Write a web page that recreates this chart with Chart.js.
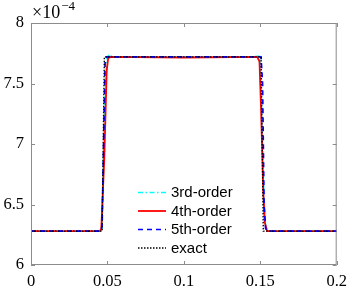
<!DOCTYPE html>
<html><head><meta charset="utf-8">
<script src="https://cdn.jsdelivr.net/npm/chart.js@4"></script>
<style>html,body{margin:0;padding:0;background:#fff}#wrap{width:354px;height:293px}</style>
</head><body><div id="wrap"><canvas id="c" width="354" height="293"></canvas></div>
<script>
// Values in units of 1e-4
const seriesNames = ['3rd-order','4th-order','5th-order','exact'];
const x3 = [0,0.045,0.0465,0.0475,0.0485,0.0495,0.051,0.053,0.1,0.147,0.148,0.1495,0.1505,0.1515,0.1525,0.1535,0.155,0.2];
const y3 = [6.28,6.28,6.30,6.85,7.45,7.70,7.74,7.72,7.72,7.72,7.74,7.70,7.45,6.95,6.50,6.32,6.28,6.28];
const x4 = [0,0.045,0.046,0.048,0.0495,0.0505,0.052,0.1,0.148,0.1495,0.1505,0.152,0.153,0.1545,0.2];
const y4 = [6.28,6.28,6.30,6.90,7.60,7.71,7.72,7.715,7.72,7.68,7.30,6.60,6.35,6.28,6.28];
const x5 = [0,0.0455,0.0465,0.0475,0.0485,0.0495,0.1505,0.1515,0.1525,0.1535,0.155,0.2];
const y5 = [6.28,6.28,6.32,7.00,7.68,7.72,7.72,7.50,6.50,6.30,6.28,6.28];
const xe = [0,0.0465,0.048,0.1505,0.152,0.2];
const ye = [6.28,6.28,7.72,7.72,6.28,6.28];
const xTickVals = [0,0.05,0.1,0.15,0.2];
const xTickLabels = ['0','0.05','0.1','0.15','0.2'];
const yTickVals = [6,6.5,7,7.5,8];
const yTickLabels = ['6','6.5','7','7.5','8'];
const exponentBase = '\u00d710';
const exponentSup = '\u22124';

const pts = (xs, ys) => xs.map((x, i) => ({x, y: ys[i]}));
const styles = [
  {color:'#00ffff', dash:[5,2.5,1.5,2.5], width:1.7, order:3},
  {color:'#ff0000', dash:[], width:1.8, order:2},
  {color:'#0000ff', dash:[5,4], width:1.7, order:1},
  {color:'#000000', dash:[1.5,1.5], width:1.4, order:0}
];
const allData = [pts(x3,y3), pts(x4,y4), pts(x5,y5), pts(xe,ye)];
const datasets = allData.map((d, i) => ({
  label: seriesNames[i], data: d, showLine: true, pointRadius: 0,
  borderColor: styles[i].color, borderDash: styles[i].dash,
  borderWidth: styles[i].width, order: styles[i].order, tension: 0, fill: false
}));

const AX = '#8c8c8c';
const boxPlugin = {
  id: 'box',
  afterDraw(chart) {
    const {ctx, chartArea: a, scales} = chart;
    ctx.save();
    ctx.strokeStyle = AX; ctx.lineWidth = 1; ctx.setLineDash([]);
    ctx.strokeRect(a.left + 0.5, a.top + 0.5, a.right - a.left - 1, a.bottom - a.top - 1);
    const L = 4;
    ctx.beginPath();
    xTickVals.forEach(v => {
      const px = Math.round(scales.x.getPixelForValue(v)) + 0.5;
      ctx.moveTo(px, a.bottom); ctx.lineTo(px, a.bottom - L);
      ctx.moveTo(px, a.top); ctx.lineTo(px, a.top + L);
    });
    yTickVals.forEach(v => {
      const py = Math.round(scales.y.getPixelForValue(v)) + 0.5;
      ctx.moveTo(a.left, py); ctx.lineTo(a.left + L, py);
      ctx.moveTo(a.right, py); ctx.lineTo(a.right - L, py);
    });
    ctx.stroke();
    // exponent
    ctx.fillStyle = '#000';
    ctx.textBaseline = 'alphabetic'; ctx.textAlign = 'left';
    ctx.font = '18px "Liberation Serif"';
    ctx.fillText(exponentBase, a.left + 1, 18);
    const w = ctx.measureText(exponentBase).width;
    ctx.font = '13px "Liberation Serif"';
    ctx.fillText(exponentSup, a.left + 1 + w + 1, 10);
    // legend
    ctx.font = '15px "Liberation Sans"';
    ctx.textBaseline = 'middle';
    const rowsY = [192, 210.5, 229, 247.5];
    datasets.forEach((ds, i) => {
      const y = rowsY[i];
      ctx.strokeStyle = ds.borderColor; ctx.lineWidth = ds.borderWidth;
      ctx.setLineDash(ds.borderDash);
      ctx.beginPath(); ctx.moveTo(138, y + 0.5); ctx.lineTo(166, y + 0.5); ctx.stroke();
      ctx.setLineDash([]);
      ctx.fillStyle = '#000';
      ctx.fillText(ds.label, 171, y + 1);
    });
    ctx.restore();
  }
};

new Chart(document.getElementById('c'), {
  type: 'scatter',
  data: { datasets },
  options: {
    responsive: false, animation: false, devicePixelRatio: 1,
    layout: { padding: { top: 23, right: 14, left: 0, bottom: 0 } },
    plugins: { legend: { display: false }, tooltip: { enabled: false } },
    scales: {
      x: {
        type: 'linear', min: 0, max: 0.2,
        afterBuildTicks: s => { s.ticks = xTickVals.map(v => ({value: v})); },
        afterFit: s => { s.height = 28; },
        grid: { display: false, drawTicks: false },
        border: { display: false },
        ticks: { color: '#000', padding: 7, maxRotation: 0, autoSkip: false,
          font: { family: 'Liberation Serif', size: 16.5 },
          callback: (v, i) => xTickLabels[i] }
      },
      y: {
        type: 'linear', min: 6, max: 8,
        afterBuildTicks: s => { s.ticks = yTickVals.map(v => ({value: v})); },
        afterFit: s => { s.width = 31; },
        grid: { display: false, drawTicks: false },
        border: { display: false },
        ticks: { color: '#000', padding: 7, autoSkip: false,
          font: { family: 'Liberation Serif', size: 16.5 },
          callback: (v, i) => yTickLabels[i] }
      }
    }
  },
  plugins: [boxPlugin]
});
</script>
</body></html>
